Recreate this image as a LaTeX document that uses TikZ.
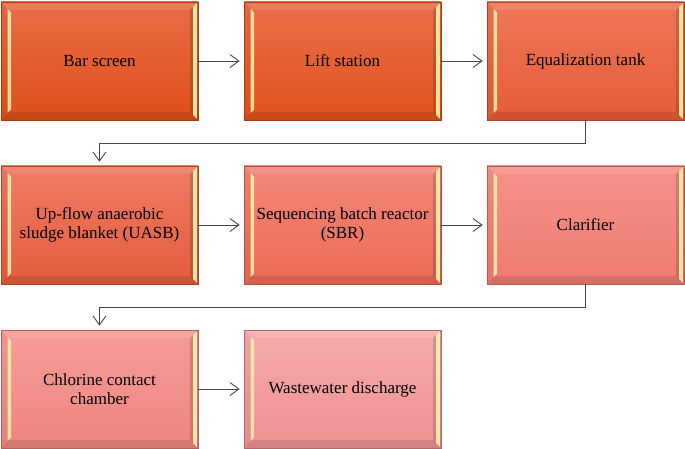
\documentclass[tikz,border=0pt]{standalone}
\usepackage{fontspec}
\setmainfont{Liberation Serif}
\usetikzlibrary{arrows.meta,calc}
\definecolor{linec}{HTML}{3E4A4A}
\definecolor{stripc}{HTML}{FFF2A8}
\definecolor{aT}{HTML}{E96C48}\definecolor{aB}{HTML}{DE4F18}
\definecolor{bT}{HTML}{EA6E4A}\definecolor{bB}{HTML}{E0521C}
\definecolor{cT}{HTML}{EE7658}\definecolor{cB}{HTML}{E65C36}
\definecolor{dT}{HTML}{EF7B64}\definecolor{dB}{HTML}{E35C3C}
\definecolor{eT}{HTML}{F3887A}\definecolor{eB}{HTML}{EA6A55}
\definecolor{fT}{HTML}{F6928A}\definecolor{fB}{HTML}{EE7A70}
\definecolor{gT}{HTML}{F69C96}\definecolor{gB}{HTML}{EE8580}
\definecolor{hT}{HTML}{F7ABAB}\definecolor{hB}{HTML}{EE9092}
\tikzset{
  bevel/.style={path picture={
    \coordinate (bnw) at (path picture bounding box.north west);
    \coordinate (bse) at (path picture bounding box.south east);
    \coordinate (bsw) at (bnw |- bse);
    \coordinate (bne) at (bse |- bnw);
    \fill[white,opacity=0.10] (bnw) -- (bne) -- ([shift={(-8pt,-8pt)}]bne) -- ([shift={(8pt,-8pt)}]bnw) -- cycle;
    \fill[black,opacity=0.10] (bsw) -- (bse) -- ([shift={(-8pt,8pt)}]bse) -- ([shift={(8pt,8pt)}]bsw) -- cycle;
    \fill[black,opacity=0.04] (bnw) -- ([shift={(8pt,-8pt)}]bnw) -- ([shift={(8pt,8pt)}]bsw) -- (bsw) -- cycle;
    \fill[black,opacity=0.14] (bne) -- (bse) -- ([shift={(-8pt,8pt)}]bse) -- ([shift={(-8pt,-8pt)}]bne) -- cycle;
    \fill[stripc,opacity=0.85] ([shift={(6.5pt,-7pt)}]bnw) -- ([shift={(10pt,-10.5pt)}]bnw) -- ([shift={(10pt,10.5pt)}]bsw) -- ([shift={(6.5pt,7pt)}]bsw) -- cycle;
    \fill[stripc,opacity=0.9] ([shift={(-5pt,-5pt)}]bne) -- ([shift={(-1.2pt,-1.2pt)}]bne) -- ([shift={(-1.2pt,1.2pt)}]bse) -- ([shift={(-5pt,5pt)}]bse) -- cycle;
  }},
  procbox/.style 2 args={rectangle, minimum width=197pt, minimum height=118pt,
    inner sep=0pt, align=center, top color=#1, bottom color=#2,
    draw=#2!75!black, line width=0.6pt, bevel,
    font=\fontsize{17}{18.5}\selectfont},
  conn/.style={draw=linec, line width=0.9pt, shorten >=4pt,
    -{Straight Barb[length=9pt,width=13pt,line width=0.9pt]}}
}
\begin{document}
\begin{tikzpicture}[x=1pt,y=-1pt]
\useasboundingbox (0,0) rectangle (685,449);
\node[procbox={aT}{aB}] (b1) at (99.5,61) {Bar screen};
\node[procbox={bT}{bB}] (b2) at (342.5,61) {Lift station};
\node[procbox={cT}{cB}] (b3) at (585.5,61) {Equalization tank};
\node[procbox={dT}{dB}] (b4) at (99.5,225) {Up-flow anaerobic\\sludge blanket (UASB)};
\node[procbox={eT}{eB}] (b5) at (342.5,225) {Sequencing batch reactor\\(SBR)};
\node[procbox={fT}{fB}] (b6) at (585.5,225) {Clarifier};
\node[procbox={gT}{gB}] (b7) at (99.5,389) {Chlorine contact\\chamber};
\node[procbox={hT}{hB}] (b8) at (342.5,389) {Wastewater discharge};
\draw[conn] (b1) -- (b2);
\draw[conn] (b2) -- (b3);
\draw[conn] (b3.south) -- ([yshift=-23pt]b3.south) -| (b4.north);
\draw[conn] (b4) -- (b5);
\draw[conn] (b5) -- (b6);
\draw[conn] (b6.south) -- ([yshift=-23pt]b6.south) -| (b7.north);
\draw[conn] (b7) -- (b8);
\end{tikzpicture}
\end{document}
